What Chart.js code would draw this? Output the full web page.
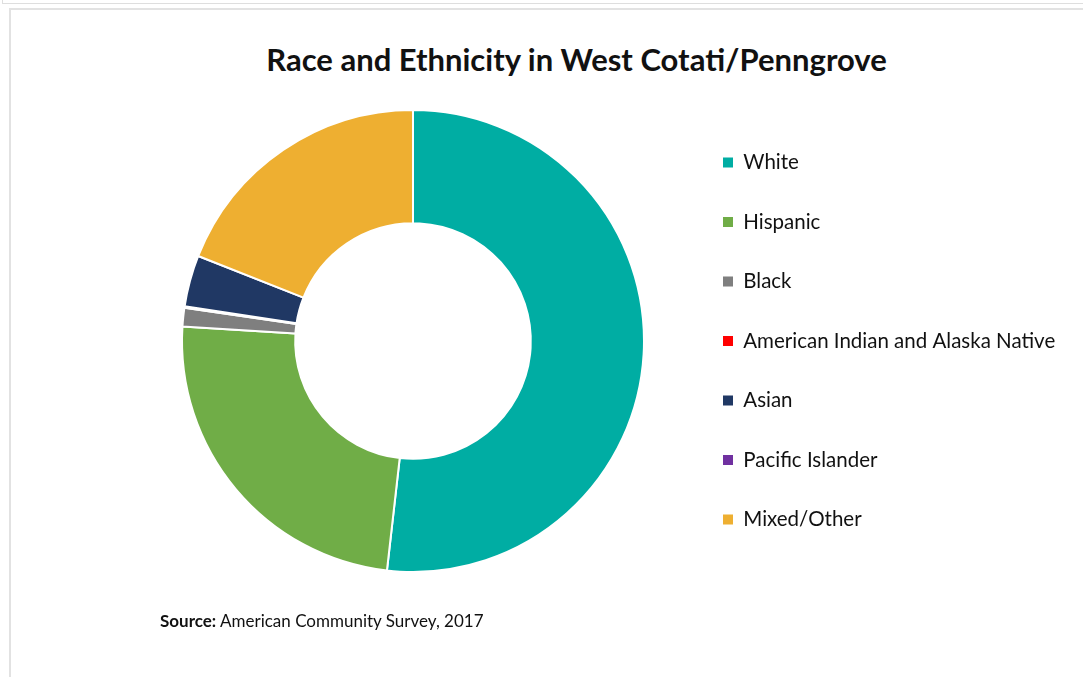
<!DOCTYPE html>
<html>
<head>
<meta charset="utf-8">
<script src="https://cdn.jsdelivr.net/npm/chart.js@4"></script>
<style>
    html, body { margin: 0; padding: 0; background: #fff; }
    body { width: 1083px; height: 677px; position: relative; overflow: hidden; font-family: Lato, "Open Sans", sans-serif; }
    .frame-top { position: absolute; left: 2px; top: 0; width: 1090px; height: 3px; border-left: 1px solid #dedede; border-bottom: 1px solid #dedede; }
    .frame { position: absolute; left: 9px; top: 8px; width: 1090px; height: 700px; border-left: 2px solid #e2e2e2; border-top: 2px solid #e2e2e2; }
    #chart { position: absolute; left: 0; top: 0; }
    .title { position: absolute; left: 0; width: 1153px; top: 41px; line-height: 36px; text-align: center; font-size: 31px; font-weight: 700; color: #111; }
    .source { position: absolute; left: 160px; top: 610px; font-size: 17px; color: #111; }
    .source b { font-weight: 700; }
</style>
</head>
<body>
<div class="frame-top"></div>
<div class="frame"></div>
<div class="title">Race and Ethnicity in West Cotati/Penngrove</div>
<canvas id="chart" width="1083" height="677"></canvas>
<div class="source"><b>Source:</b> American Community Survey, 2017</div>

<script>
// data (percent of population)
const groups = ['White', 'Hispanic', 'Black', 'American Indian and Alaska Native', 'Asian', 'Pacific Islander', 'Mixed/Other'];
const shares = [51.8, 24.2, 1.3, 0.1, 3.6, 0, 19.0];
const colors = ['#00ADA3', '#70AD47', '#7F7F7F', '#FF0000', '#203864', '#7030A0', '#EEAF31'];

const legendFontSize = 20.5;
const legendPad = 39;
const legendBox = 10;

const canvas = document.getElementById('chart');
const ctx = canvas.getContext('2d');

// width the legend will need, so the legend sits where the reference has it
ctx.font = legendFontSize + 'px Lato';
const longest = Math.max(...groups.map(g => ctx.measureText(g).width));
const legendWidth = legendPad + legendBox + legendFontSize / 2 + longest + 10;
const legendLeft = 723 - legendPad;
const rightPad = Math.max(canvas.width - (legendLeft + legendWidth), 0);

new Chart(ctx, {
    type: 'doughnut',
    data: {
        labels: groups,
        datasets: [{
            data: shares,
            backgroundColor: colors,
            borderColor: '#ffffff',
            borderWidth: 2
        }]
    },
    options: {
        responsive: false,
        animation: false,
        devicePixelRatio: 1,
        cutout: '51%',
        layout: {
            padding: { left: 2 * 413 - legendLeft, right: rightPad, top: 109, bottom: 104 }
        },
        plugins: {
            legend: {
                position: 'right',
                labels: {
                    color: '#111',
                    font: { family: 'Lato', size: legendFontSize },
                    boxWidth: legendBox,
                    boxHeight: legendBox,
                    padding: legendPad,
                    // plain filled squares, no white outline
                    generateLabels: chart => {
                        const base = Chart.overrides.doughnut.plugins.legend.labels.generateLabels(chart);
                        return base.map(item => ({ ...item, lineWidth: 0, hidden: false }));
                    }
                }
            },
            tooltip: { enabled: false }
        }
    }
});
</script>
</body>
</html>
